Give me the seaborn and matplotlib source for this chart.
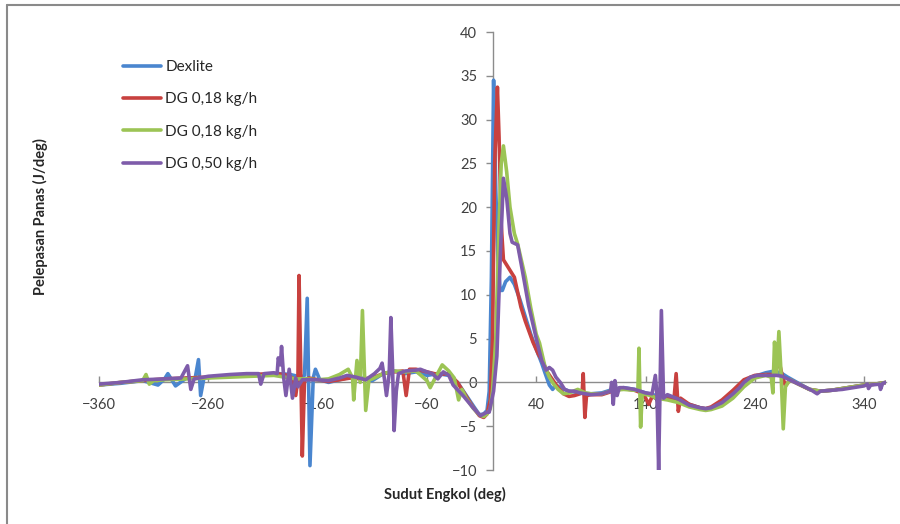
import matplotlib
matplotlib.use("Agg")
import matplotlib.pyplot as plt
from matplotlib.lines import Line2D
import seaborn as sns

# Heat release rate vs crank angle for four fuel configurations
dexlite_x = [-360, -340, -320, -306, -300, -297, -293, -290, -280, -272, -269, -267, -264, -250,
             -230, -210, -195, -185, -175, -172, -169.5, -167, -164, -162, -158, -150, -140, -130,
             -120, -110, -100, -90, -80, -70, -60, -50, -40, -32, -25, -18, -12, -8, -5, -3, -1,
             1, 3, 5, 7, 9, 12, 16, 20, 25, 30, 35, 40, 45, 48, 52, 55, 58, 62, 70, 80, 90, 100,
             110, 120, 130, 140, 150, 160, 170, 180, 190, 195, 200, 210, 220, 230, 240, 250, 258,
             265, 270, 280, 290, 300, 310, 320, 330, 340, 350, 360]
dexlite_y = [-0.3, -0.1, 0.2, -0.3, 0.4, 1.0, 0.2, -0.4, 0.5, 0.5, 2.6, -1.5, 0.5, 0.7,
             0.8, 0.9, 1.0, 0.9, 0.6, 0.8, 9.6, -9.5, 0.5, 1.5, 0.3, 0.0, 0.3, 0.6,
             0.5, 0.2, 1.0, 1.3, 1.0, 1.2, 0.8, 1.0, 0.8, 0.0, -1.3, -2.6, -3.7, -3.6, -3.2, -1.0, 12.0,
             34.5, 22.0, 14.0, 10.5, 10.5, 11.5, 12.0, 11.2, 9.5, 7.5, 5.5, 3.8, 2.2, 1.1, -0.3, -0.8, -0.3, -0.6, -1.0, -1.2, -1.3, -1.2,
             -0.8, -0.6, -0.8, -1.2, -1.5, -1.7, -2.0, -2.5, -2.9, -3.0, -2.9, -2.4, -1.4, 0.0, 0.7, 1.1, 1.3,
             1.0, 0.6, -0.1, -0.8, -1.0, -0.9, -0.7, -0.5, -0.3, -0.2, 0.0]

dg18a_x = [-360, -340, -320, -300, -280, -260, -240, -220, -200, -190, -183, -180, -178, -177,
           -175.5, -174, -172, -168, -160, -150, -140, -130, -120, -110, -100, -90, -82, -79, -76,
           -70, -60, -50, -40, -32, -25, -18, -12, -8, -5, -2, 0, 2, 4.5, 6, 8, 10, 15, 20, 26,
           30, 37, 42, 46, 50, 55, 60, 65, 70, 75, 80, 82, 83, 84.5, 86, 90, 100, 110, 120, 130,
           138, 143, 146, 150, 160, 166, 168, 170, 172, 180, 190, 195, 200, 210, 220, 230, 240,
           250, 258, 262, 265, 268, 272, 280, 290, 300, 310, 320, 330, 340, 350, 360]
dg18a_y = [-0.3, 0.0, 0.2, 0.4, 0.5, 0.6, 0.8, 0.9, 1.0, 0.9, 0.5, -1.5, 0.5, 12.2,
           2.0, -8.4, 0.2, 0.5, 0.3, 0.1, 0.3, 0.5, 0.4, 0.5, 1.0, 1.2, 1.3, -1.5, 1.5,
           1.5, 1.2, 0.9, 1.0, 0.0, -1.4, -2.8, -3.8, -4.0, -3.6, -2.0, 5.0, 25.0, 33.7, 28.0, 18.0, 14.0, 13.0, 12.0, 8.6,
           7.0, 4.6, 3.2, 2.4, 1.2, 0.3, -0.6, -1.3, -1.6, -1.5, -1.3, -1.2, 1.0, -4.0, -1.5, -1.4, -1.4, -1.0, -0.7, -0.9,
           -1.3, -2.5, -1.6, -1.7, -1.9, -2.0, 1.0, -3.3, -1.8, -2.5, -2.9, -3.0, -2.8, -2.0, -0.9, 0.3, 0.8,
           0.9, 0.9, 2.5, 0.8, -0.4, 0.3, -0.2, -0.8, -1.0, -0.9, -0.7, -0.5, -0.3, -0.2, 0.0]

dg18b_x = [-360, -340, -320, -317, -314, -310, -300, -280, -260, -240, -220, -200, -190, -180,
           -170, -160, -150, -140, -132, -128, -127, -124, -121, -119, -116, -113, -110, -100,
           -90, -80, -70, -60, -57, -52, -46, -40, -35, -31, -28, -24, -18, -12, -8, -5, -2, 0,
           3, 6, 8, 10, 13, 16, 20, 23, 30, 35, 40, 43, 48, 52, 56, 60, 65, 70, 78, 85, 90, 100,
           110, 120, 130, 133, 134, 135.5, 137, 145, 150, 160, 170, 180, 190, 195, 200, 210, 220,
           230, 240, 250, 255, 256.5, 258, 260, 262, 264, 266, 268, 272, 280, 290, 300, 310, 320,
           330, 340, 350, 360]
dg18b_y = [-0.3, 0.0, 0.2, 0.9, -0.2, 0.2, 0.3, 0.4, 0.5, 0.6, 0.7, 0.8, 0.6, 0.4,
           0.4, 0.3, 0.4, 0.9, 1.5, 0.5, -2.0, 2.5, 0.0, 8.2, -3.2, 0.3, 0.4, 1.0,
           1.3, 1.2, 1.3, 0.2, -0.6, 0.6, 2.0, 1.3, 0.5, -2.0, -0.8, -1.8, -2.9, -3.7, -3.9, -3.6, -3.0, -1.0,
           5.0, 18.0, 25.0, 27.0, 24.0, 20.0, 17.0, 15.8, 12.0, 8.5, 5.5, 4.5, 1.8, 0.6, -0.2, -0.8, -1.3, -1.2, -0.8, -1.2, -1.3, -1.3,
           -0.9, -0.8, -0.9, -0.9, 3.9, -5.1, -1.3, -1.5, -1.8, -2.0, -2.3, -2.8, -3.1, -3.2, -3.1, -2.7, -1.8,
           -0.5, 0.5, 0.8, 0.6, -1.2, 4.6, 1.0, 5.8, 1.0, -5.3, -0.5, 0.3, -0.2, -0.8, -1.0, -0.9, -0.7,
           -0.5, -0.3, -0.2, 0.0]

dg50_x = [-360, -340, -320, -300, -285, -279, -276, -273, -260, -240, -225, -214, -212, -209,
          -200, -197, -196, -194, -193, -191, -189, -186, -183, -180, -178, -174, -165, -160,
          -150, -140, -133, -125, -116, -108, -103, -101, -99, -97, -94.5, -93, -91.5, -90, -88,
          -86, -80, -70, -66, -60, -55, -50, -45, -40, -36, -27, -17, -11, -5, -3, 1, 4, 7, 10,
          13, 16, 18, 23, 27, 33, 41, 45, 49, 52, 55, 58, 62, 66, 70, 75, 80, 90, 100, 108, 109,
          110.5, 112, 114, 116, 120, 130, 140, 146, 149, 150.5, 152, 154.5, 156.5, 160, 170, 180,
          190, 195, 200, 210, 220, 226, 230, 236, 242, 250, 260, 265, 270, 282, 292, 297, 300,
          310, 320, 330, 340, 343, 344, 346, 354, 355, 357, 360]
dg50_y = [-0.2, 0.0, 0.3, 0.4, 0.5, 1.9, -0.8, 0.4, 0.7, 0.9, 1.0, 1.0, -0.2, 1.0,
          1.1, 1.0, 2.8, 2.0, 4.1, 0.5, -1.5, 1.5, -1.8, 0.5, -0.5, 0.3, 0.3, 0.3,
          0.2, 0.5, 0.8, 0.6, 0.3, 1.0, 1.6, 2.2, 0.5, -1.5, 1.0, 7.4, 2.0, -5.5, -1.0,
          1.0, 1.3, 1.4, 1.5, 1.2, 1.0, 0.4, 1.2, 0.8, -0.3, -1.5, -3.0, -3.8, -3.4, -3.4, -1.0, 3.0, 14.0, 23.3,
          21.0, 17.0, 16.0, 15.7, 13.0, 8.8, 4.5, 2.5, 1.4, 1.7, 1.4, 0.6, 0.0, -0.8, -1.0, -1.0, -1.2, -1.4, -1.3, -1.0, 0.0,
          -2.5, 0.2, -1.5, -0.6, -0.6, -0.8, -1.2, -1.3, 0.8, -1.5, -10.0, 8.2, -1.8, -1.4, -1.9, -2.6,
          -2.9, -3.0, -2.9, -2.3, -1.3, -0.6, 0.0, 0.6, 0.8, 0.8, 0.8, 0.7, 0.4, -0.3, -0.9, -1.3, -1.0,
          -0.9, -0.8, -0.6, -0.4, -0.2, -0.7, -0.3, -0.2, -0.8, -0.1, 0.0]

series_labels = ["Dexlite", "DG 0,18 kg/h", "DG 0,18 kg/h", "DG 0,50 kg/h"]
series_colors = ["#4A86CF", "#C8413F", "#9CC455", "#7E5CAA"]
x_ticks = [-360, -260, -160, -60, 40, 140, 240, 340]
y_ticks = [-10, -5, 0, 5, 10, 15, 20, 25, 30, 35, 40]

sns.set_theme(style="white")
plt.rcParams["font.family"] = ["Lato", "DejaVu Sans"]

fig = plt.figure(figsize=(9, 5.24), dpi=100)
ax = fig.add_axes([99 / 900, 1 - 470 / 524, 787 / 900, 438 / 524])

series = [(dexlite_x, dexlite_y), (dg18a_x, dg18a_y), (dg18b_x, dg18b_y), (dg50_x, dg50_y)]
for (xs, ys), lab, col in zip(series, series_labels, series_colors):
    sns.lineplot(x=xs, y=ys, ax=ax, color=col, linewidth=2.6, label=lab,
                 sort=False, estimator=None, solid_joinstyle="round", solid_capstyle="round")

ax.set_xlim(-360, 360)
ax.set_ylim(-10, 40)
ax.set_xticks(x_ticks)
ax.set_yticks(y_ticks)
ax.set_xlabel("")
ax.set_ylabel("")

axis_grey = "#8C8C8C"
for side in ("top", "right"):
    ax.spines[side].set_visible(False)
ax.spines["left"].set_position(("data", 0))
ax.spines["bottom"].set_position(("data", 0))
for side in ("left", "bottom"):
    ax.spines[side].set_color(axis_grey)
    ax.spines[side].set_linewidth(1.0)
    ax.spines[side].set_zorder(1)

ax.tick_params(axis="y", direction="out", length=5, width=1, color=axis_grey,
               pad=6, labelsize=10.5, labelcolor="#404040", left=True)
ax.tick_params(axis="x", direction="in", length=4, width=1, color=axis_grey,
               pad=11, labelsize=10.5, labelcolor="#404040", bottom=True)

leg = ax.legend(loc="upper left", bbox_to_anchor=(0.03, 0.936), frameon=False,
                fontsize=11, handlelength=2.5, handletextpad=0.3, labelspacing=1.2,
                borderpad=0, borderaxespad=0)
for txt in leg.get_texts():
    txt.set_color("#262626")

fig.text(40 / 900, 1 - 217 / 524, "Pelepasan Panas (J/deg)", rotation=90,
         ha="center", va="center", fontsize=10.5, fontweight="bold", color="#262626")
fig.text(445 / 900, 1 - 494 / 524, "Sudut Engkol (deg)", ha="center", va="center",
         fontsize=10.5, fontweight="bold", color="#262626")

# outer chart frame (top and left edges)
fig.add_artist(Line2D([7 / 900, 7 / 900], [0, 1 - 5 / 524], transform=fig.transFigure,
                      color="#8A8A8A", linewidth=1.5))
fig.add_artist(Line2D([7 / 900, 1], [1 - 5 / 524, 1 - 5 / 524], transform=fig.transFigure,
                      color="#8A8A8A", linewidth=1.5))

fig.savefig("out.png", dpi=100)
